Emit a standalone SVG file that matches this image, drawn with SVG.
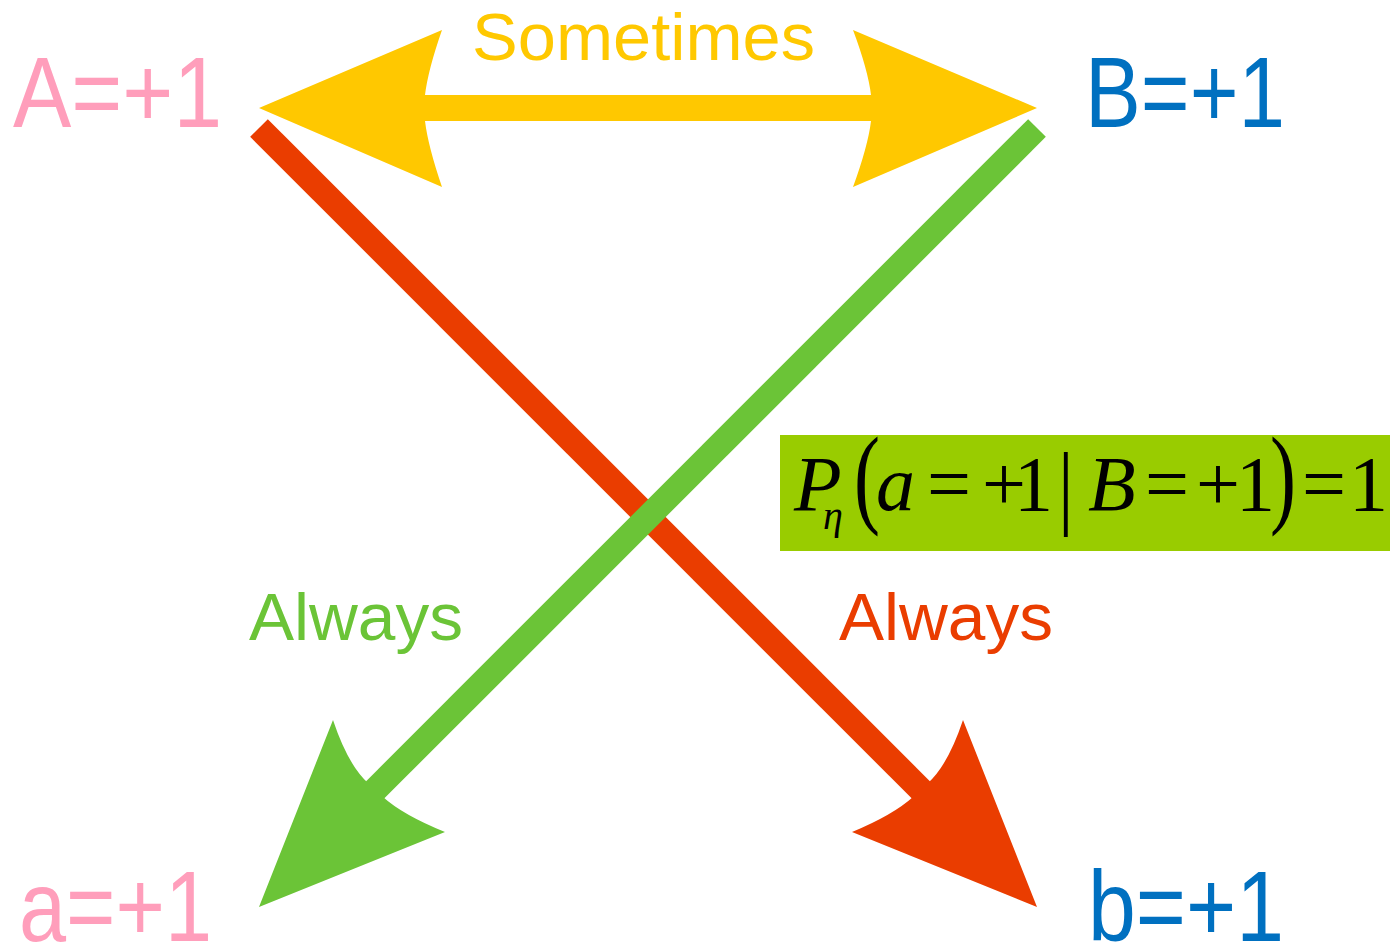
<svg xmlns="http://www.w3.org/2000/svg" width="1393" height="948" viewBox="0 0 1393 948">
<style>
.lbl{font-family:"Liberation Sans",Arial,sans-serif;}
.big{font-size:100px;}
.mid{font-size:67px;}
.pink{fill:#FF9EBB;}
.blue{fill:#0070C0;}
.math{font-family:"Liberation Serif","Times New Roman",serif;font-size:78px;fill:#000;}
.it{font-style:italic;}
</style>
<rect width="1393" height="948" fill="#fff"/>
<g id="connectors">
  <g id="sometimes-arrow" fill="#FFC800">
    <rect x="420" y="95" width="456" height="26"/>
    <path d="M259,108 L442,30 Q428,70 425,95 L425,121 Q428,146 442,187 Z"/>
    <path d="M1037,108 L853,30 Q868,70 871,95 L871,121 Q868,146 853,187 Z"/>
  </g>
  <g id="red-arrow">
    <line x1="259" y1="128" x2="928" y2="797" stroke="#EA3D00" stroke-width="25"/>
    <path d="M1037,907 L963,720 Q948,765 928,783 L913,797 Q893,815 852,832 Z" fill="#EA3D00"/>
  </g>
  <g id="green-arrow">
    <line x1="1037" y1="128" x2="368" y2="797" stroke="#6BC437" stroke-width="25"/>
    <path d="M259,907 L333,720 Q348,765 368,783 L383,797 Q403,815 445,832 Z" fill="#6BC437"/>
  </g>
</g>
<g id="node-A"><text class="lbl big pink" x="13" y="127" textLength="209" lengthAdjust="spacingAndGlyphs">A=+1</text></g>
<g id="node-B"><text class="lbl big blue" x="1085" y="127" textLength="200" lengthAdjust="spacingAndGlyphs">B=+1</text></g>
<g id="node-a"><text class="lbl big pink" x="19" y="941" textLength="193" lengthAdjust="spacingAndGlyphs">a=+1</text></g>
<g id="node-b"><text class="lbl big blue" x="1088" y="941" textLength="196" lengthAdjust="spacingAndGlyphs">b=+1</text></g>
<g id="label-sometimes"><text class="lbl mid" fill="#FFC800" x="472" y="60" textLength="343" lengthAdjust="spacingAndGlyphs">Sometimes</text></g>
<g id="label-always-green"><text class="lbl mid" fill="#6BC437" x="249" y="640" textLength="214" lengthAdjust="spacingAndGlyphs">Always</text></g>
<g id="label-always-red"><text class="lbl mid" fill="#EA3D00" x="839" y="640" textLength="214" lengthAdjust="spacingAndGlyphs">Always</text></g>
<g id="formula">
  <rect x="780" y="435" width="610" height="116" fill="#99CC00"/>
  <text class="math it" x="794" y="510">P</text>
  <text class="math it" x="823" y="529" style="font-size:40px">η</text>
  <text class="math" transform="translate(854,513) scale(1,1.4)">(</text>
  <text class="math it" x="876" y="510">a</text>
  <text class="math" x="927" y="510">=</text>
  <text class="math" x="982" y="510">+</text>
  <text class="math" x="1014" y="510">1</text>
  <text class="math" transform="translate(1058,517) scale(1,1.2)">|</text>
  <text class="math it" x="1088" y="510">B</text>
  <text class="math" x="1145" y="510">=</text>
  <text class="math" x="1196" y="510">+</text>
  <text class="math" x="1236" y="510">1</text>
  <text class="math" transform="translate(1270,513) scale(1,1.4)">)</text>
  <text class="math" x="1302" y="510">=</text>
  <text class="math" x="1349" y="510">1</text>
</g>
</svg>
